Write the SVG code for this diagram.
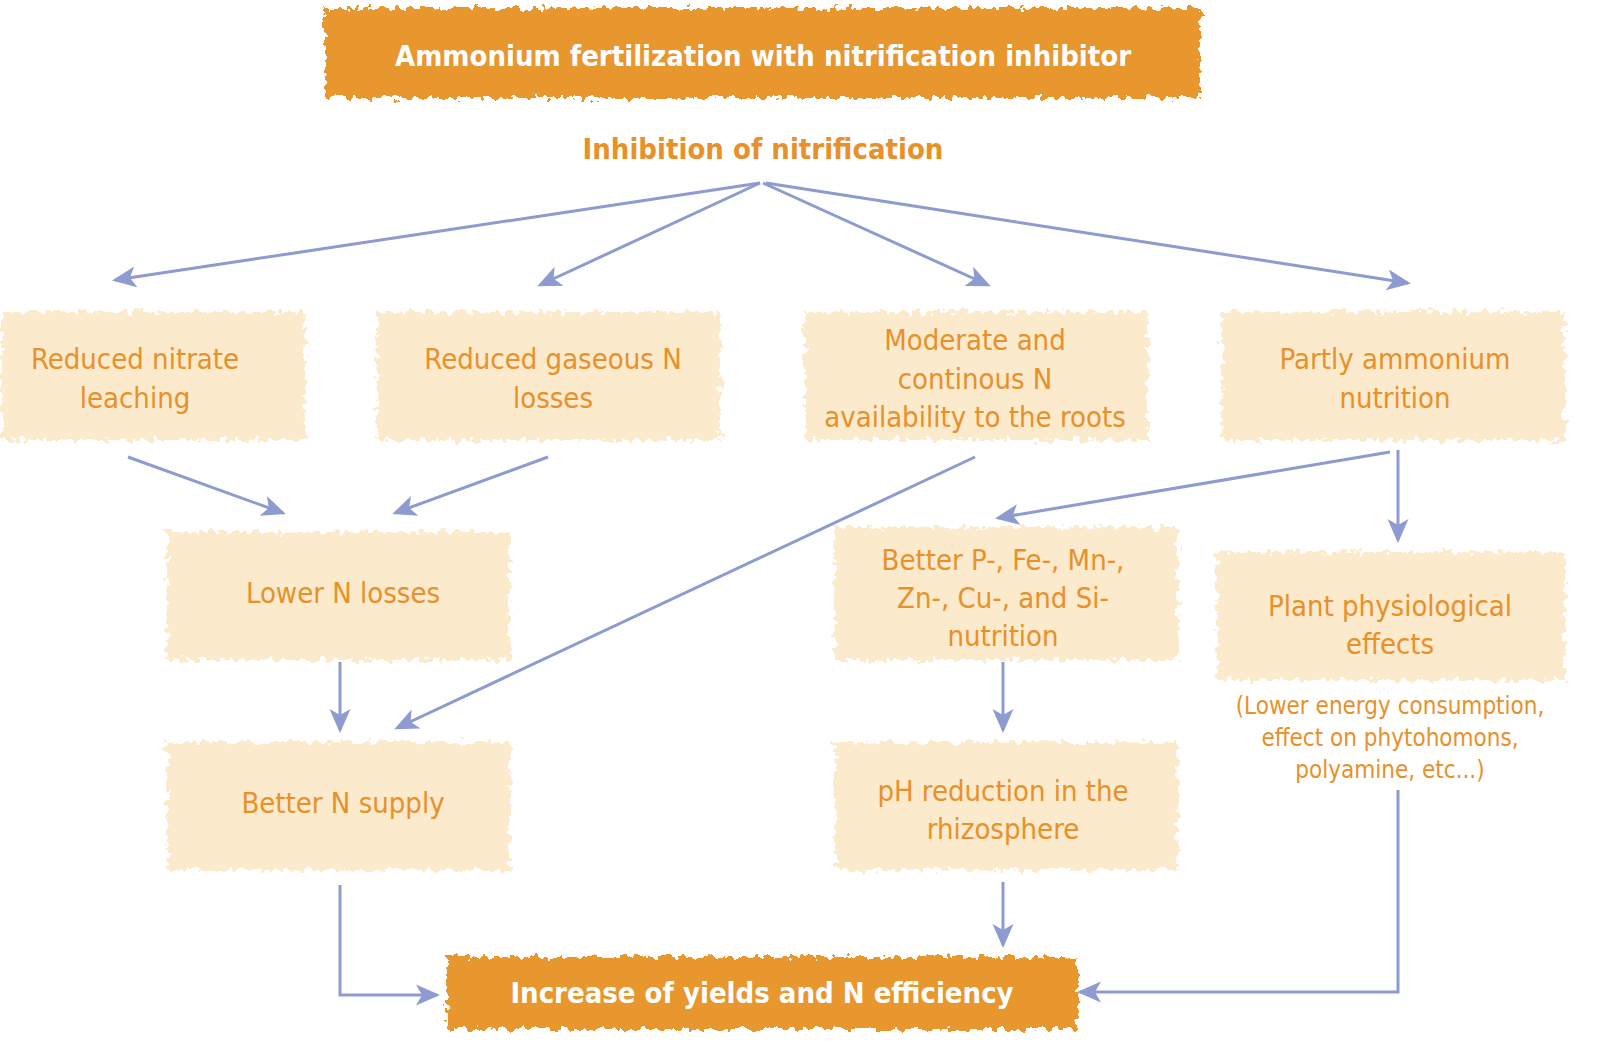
<svg xmlns="http://www.w3.org/2000/svg" width="1599" height="1057" viewBox="0 0 1599 1057">
<style>
.box{fill:#FBEACB}
.ban{fill:#E8962F}
.t{font-family:"DejaVu Sans Condensed","Liberation Sans Narrow","Liberation Sans",sans-serif;font-size:29px;fill:#E8902A;text-anchor:middle}
.s{font-size:24px}
.w{fill:#fff;font-weight:bold}
.b{font-weight:bold}
.c{stroke:#8D9BD0;stroke-width:3;fill:none;marker-end:url(#ah)}
</style>
<defs>
<marker id="ah" markerWidth="8" markerHeight="8" refX="7" refY="4" orient="auto" markerUnits="strokeWidth"><path d="M0,0.5 L8,4 L0,7.5 L2,4 Z" fill="#8D9BD0"/></marker>
<filter id="rough" x="-5%" y="-10%" width="110%" height="120%"><feTurbulence type="fractalNoise" baseFrequency="0.15" numOctaves="2" seed="3"/><feDisplacementMap in="SourceGraphic" scale="14"/></filter>
</defs>
<g id="top"><rect class="ban" x="325" y="8" width="875" height="90" filter="url(#rough)"/><text class="t w" x="763" y="66">Ammonium fertilization with nitrification inhibitor</text></g>
<g id="inhib"><text class="t b" x="763" y="159">Inhibition of nitrification</text></g>
<g id="n1"><rect class="box" x="2" y="312" width="303" height="128" filter="url(#rough)"/><text class="t" x="135" y="369">Reduced nitrate</text><text class="t" x="135" y="408">leaching</text></g>
<g id="n2"><rect class="box" x="377" y="312" width="343" height="128" filter="url(#rough)"/><text class="t" x="553" y="369">Reduced gaseous N</text><text class="t" x="553" y="408">losses</text></g>
<g id="n3"><rect class="box" x="805" y="312" width="343" height="128" filter="url(#rough)"/><text class="t" x="975" y="350">Moderate and</text><text class="t" x="975" y="389">continous N</text><text class="t" x="975" y="427">availability to the roots</text></g>
<g id="n4"><rect class="box" x="1222" y="312" width="343" height="128" filter="url(#rough)"/><text class="t" x="1395" y="369">Partly ammonium</text><text class="t" x="1395" y="408">nutrition</text></g>
<g id="n5"><rect class="box" x="167" y="532" width="343" height="128" filter="url(#rough)"/><text class="t" x="343" y="603">Lower N losses</text></g>
<g id="n6"><rect class="box" x="167" y="742" width="343" height="128" filter="url(#rough)"/><text class="t" x="343" y="813">Better N supply</text></g>
<g id="n7"><rect class="box" x="835" y="527" width="343" height="133" filter="url(#rough)"/><text class="t" x="1003" y="570">Better P-, Fe-, Mn-,</text><text class="t" x="1003" y="608">Zn-, Cu-, and Si-</text><text class="t" x="1003" y="646">nutrition</text></g>
<g id="n8"><rect class="box" x="1217" y="552" width="348" height="128" filter="url(#rough)"/><text class="t" x="1390" y="616">Plant physiological</text><text class="t" x="1390" y="654">effects</text>
<text class="t s" x="1390" y="714">(Lower energy consumption,</text><text class="t s" x="1390" y="746">effect on phytohomons,</text><text class="t s" x="1390" y="778">polyamine, etc...)</text></g>
<g id="n9"><rect class="box" x="835" y="742" width="343" height="128" filter="url(#rough)"/><text class="t" x="1003" y="801">pH reduction in the</text><text class="t" x="1003" y="839">rhizosphere</text></g>
<g id="bottom"><rect class="ban" x="447" y="957" width="630" height="72" filter="url(#rough)"/><text class="t w" x="762" y="1003">Increase of yields and N efficiency</text></g>
<g id="connectors">
<path class="c" d="M760,183 L115,280"/>
<path class="c" d="M760,183 L540,285"/>
<path class="c" d="M763,183 L988,285"/>
<path class="c" d="M766,183 L1408,283"/>
<path class="c" d="M128,457 L283,513"/>
<path class="c" d="M548,457 L395,513"/>
<path class="c" d="M975,457 L397,728"/>
<path class="c" d="M1390,452 L998,518"/>
<path class="c" d="M1398,450 L1398,540"/>
<path class="c" d="M340,662 L340,730"/>
<path class="c" d="M1003,662 L1003,730"/>
<path class="c" d="M1003,882 L1003,945"/>
<path class="c" d="M340,885 L340,995 L437,995"/>
<path class="c" d="M1398,790 L1398,992 L1080,992"/>
</g>
</svg>
